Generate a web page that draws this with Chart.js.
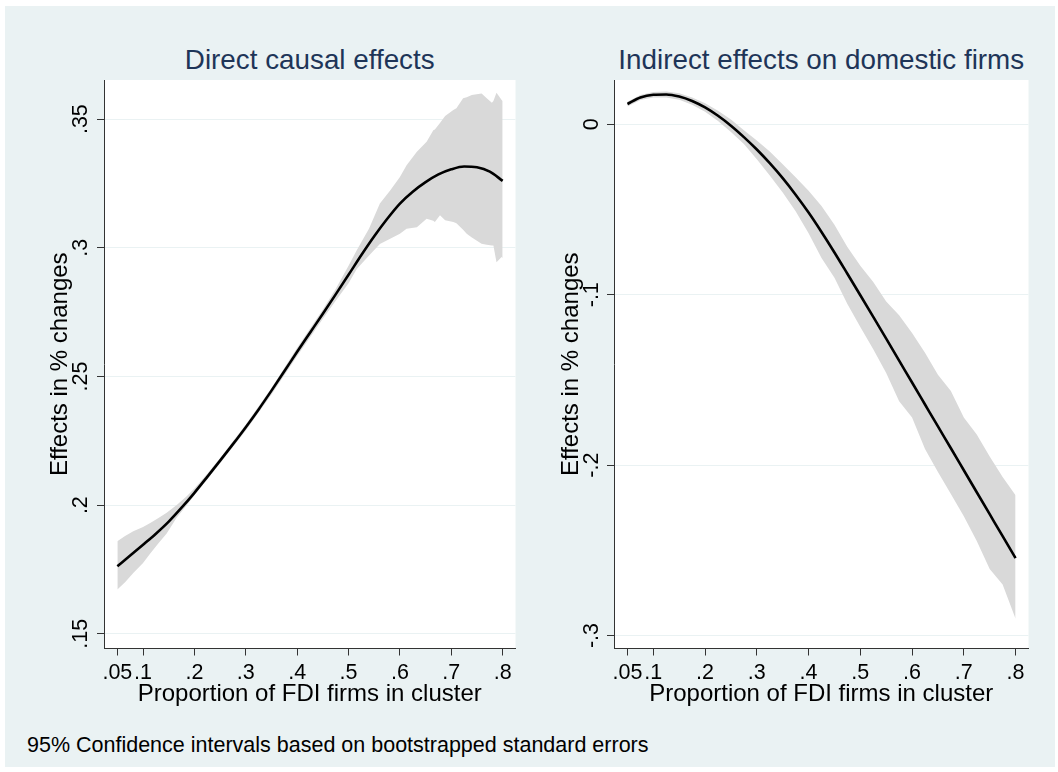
<!DOCTYPE html>
<html>
<head>
<meta charset="utf-8">
<script src="https://cdn.jsdelivr.net/npm/chart.js@4.4.1/dist/chart.umd.min.js"></script>
<style>
  html, body { margin:0; padding:0; background:#ffffff; overflow:hidden; }
  body { width:1058px; height:772px; position:relative; font-family:"Liberation Sans", Arial, sans-serif; }
  #bg { position:absolute; left:5px; top:6px; width:1050px; height:761px; background:#EAF2F3; }
  canvas { position:absolute; }
  .ttl { position:absolute; top:46.4px; height:28px; line-height:28px; font-size:27.8px; color:#1E3558; text-align:center; white-space:nowrap; }
  #note { position:absolute; left:27px; top:733.5px; font-size:21.5px; line-height:22px; color:#000; white-space:nowrap; }
</style>
</head>
<body>
<div id="bg"></div>
<div class="ttl" style="left:104px; width:411.5px;">Direct causal effects</div>
<div class="ttl" style="left:614px; width:414.5px;">Indirect effects on domestic firms</div>
<canvas id="c1" width="520" height="714" style="left:5px; top:6px;"></canvas>
<canvas id="c2" width="525" height="714" style="left:530px; top:6px;"></canvas>
<div id="note">95% Confidence intervals based on bootstrapped standard errors</div>
<script>
// ---------- tick values / labels ----------
const xTickVals   = [0.05, 0.1, 0.2, 0.3, 0.4, 0.5, 0.6, 0.7, 0.8];
const xTickLabels = ['.05', '.1', '.2', '.3', '.4', '.5', '.6', '.7', '.8'];
const leftYTickVals   = [0.15, 0.2, 0.25, 0.3, 0.35];
const leftYTickLabels = ['.15', '.2', '.25', '.3', '.35'];
const rightYTickVals   = [-0.3, -0.2, -0.1, 0];
const rightYTickLabels = ['-.3', '-.2', '-.1', '0'];

// ---------- left panel: direct causal effects ----------
const leftX = [0.05,0.075,0.1,0.125,0.15,0.175,0.2,0.225,0.25,0.275,0.3,0.325,0.35,0.375,0.4,0.425,0.45,0.475,0.5,0.525,0.55,0.575,0.6,0.625,0.65,0.675,0.7,0.725,0.75,0.775,0.8];
const leftFit = [0.1763,0.1804,0.1846,0.1889,0.1936,0.1990,0.2048,0.2110,0.2173,0.2237,0.2303,0.2372,0.2445,0.2520,0.2596,0.2670,0.2744,0.2819,0.2895,0.2972,0.3045,0.3112,0.3172,0.3218,0.3255,0.3285,0.3305,0.3316,0.3313,0.3296,0.3260];
const leftBandX  = [0.05,0.065,0.081,0.1,0.114,0.13,0.146,0.165,0.185,0.2,0.225,0.25,0.3,0.35,0.4,0.45,0.475,0.5,0.516,0.54,0.561,0.581,0.6,0.613,0.633,0.652,0.665,0.668,0.678,0.688,0.704,0.71,0.723,0.73,0.74,0.759,0.769,0.779,0.782,0.788,0.798,0.8];
const leftBandHi = [0.186,0.188,0.1899,0.1915,0.1931,0.195,0.197,0.2,0.2035,0.2065,0.2122,0.2183,0.2313,0.2455,0.2612,0.2760,0.2840,0.2930,0.2990,0.3075,0.3172,0.3223,0.3275,0.3321,0.3373,0.3412,0.3457,0.3460,0.3485,0.3512,0.3535,0.3542,0.3581,0.3585,0.3594,0.3600,0.3581,0.3564,0.3570,0.3602,0.3574,0.3570];
const leftBandLo = [0.1672,0.170,0.1736,0.1775,0.1812,0.1852,0.1890,0.1950,0.2000,0.2038,0.2100,0.2163,0.2290,0.2430,0.2580,0.2724,0.2794,0.2862,0.2918,0.2970,0.3015,0.3035,0.3055,0.3074,0.3080,0.3113,0.3105,0.3100,0.3126,0.3107,0.3100,0.3095,0.3070,0.3055,0.3040,0.3016,0.3012,0.3009,0.3009,0.2944,0.2964,0.2960];

// ---------- right panel: indirect effects on domestic firms ----------
const rightX = [0.05,0.075,0.1,0.125,0.15,0.175,0.2,0.225,0.25,0.275,0.3,0.325,0.35,0.375,0.4,0.425,0.45,0.475,0.5,0.525,0.55,0.575,0.6,0.625,0.65,0.675,0.7,0.725,0.75,0.775,0.8];
const rightFit = [0.0119,0.0157,0.0173,0.0175,0.0163,0.0137,0.0099,0.0050,-0.0008,-0.0075,-0.0148,-0.0228,-0.0316,-0.0413,-0.0518,-0.0632,-0.0752,-0.0877,-0.1003,-0.1130,-0.1258,-0.1387,-0.1515,-0.1644,-0.1773,-0.1901,-0.2030,-0.2159,-0.2288,-0.2417,-0.2546];
const rightBandHi = [0.0133,0.0172,0.0189,0.0192,0.0182,0.0158,0.0124,0.0080,0.0028,-0.0035,-0.0095,-0.0160,-0.0235,-0.0310,-0.0390,-0.0480,-0.0590,-0.0720,-0.0830,-0.0925,-0.1040,-0.1120,-0.1225,-0.1340,-0.1470,-0.1565,-0.1720,-0.1820,-0.1950,-0.2070,-0.2177];
const rightBandLo = [0.0105,0.0142,0.0157,0.0158,0.0144,0.0115,0.0073,0.0020,-0.0045,-0.0115,-0.0205,-0.0300,-0.0400,-0.0510,-0.0640,-0.0785,-0.0900,-0.1055,-0.1190,-0.1320,-0.1460,-0.1625,-0.1720,-0.1905,-0.2040,-0.2170,-0.2300,-0.2445,-0.2610,-0.2700,-0.2901];

const FONT = '"Liberation Sans", Arial, sans-serif';
const AXIS_COLOR = '#333333';
const GRID_COLOR = '#EAF2F3';
const BAND_COLOR = '#D9D9D9';

const pts = (xs, ys) => xs.map((x, i) => ({x: x, y: ys[i]}));

const plotBg = {
  id: 'plotBg',
  beforeDraw(chart) {
    const {ctx, chartArea: a} = chart;
    ctx.save();
    ctx.fillStyle = '#ffffff';
    ctx.fillRect(a.left, a.top, a.right - a.left, a.bottom - a.top);
    ctx.restore();
  }
};

function makePanel(canvasId, cfg) {
  return new Chart(document.getElementById(canvasId), {
    type: 'line',
    data: {
      datasets: [
        { data: pts(cfg.fitX, cfg.fit), borderColor: '#000000', borderWidth: 2.6,
          pointRadius: 0, cubicInterpolationMode: 'monotone', fill: false },
        { data: pts(cfg.bandX, cfg.hi), borderWidth: 0, borderColor: 'rgba(0,0,0,0)',
          backgroundColor: BAND_COLOR, pointRadius: 0, tension: 0, fill: '+1' },
        { data: pts(cfg.bandX, cfg.lo), borderWidth: 0, borderColor: 'rgba(0,0,0,0)',
          backgroundColor: BAND_COLOR, pointRadius: 0, tension: 0, fill: false }
      ]
    },
    options: {
      responsive: false,
      animation: false,
      devicePixelRatio: 1,
      layout: { padding: { top: 74, right: cfg.padR, left: 0, bottom: 0 } },
      plugins: { legend: { display: false }, tooltip: { enabled: false }, title: { display: false } },
      scales: {
        x: {
          type: 'linear', min: 0.024, max: 0.825,
          afterBuildTicks: (s) => { s.ticks = xTickVals.map(v => ({value: v})); },
          afterFit: (s) => { s.height = 71.5; },
          ticks: { autoSkip: false, maxRotation: 0, minRotation: 0, padding: 4.6, color: '#000000',
                   font: { family: FONT, size: 21.5 },
                   callback: (v, i) => xTickLabels[i] },
          grid: { display: true, drawOnChartArea: false, drawTicks: true, tickLength: 7,
                  tickColor: AXIS_COLOR, tickWidth: 1 },
          border: { display: true, color: AXIS_COLOR, width: 1 },
          title: { display: true, text: 'Proportion of FDI firms in cluster', color: '#000000',
                   font: { family: FONT, size: 24 }, padding: { top: 0, bottom: 11.3 } }
        },
        y: {
          type: 'linear', min: cfg.yMin, max: cfg.yMax,
          afterBuildTicks: (s) => { s.ticks = cfg.yTicks.map(v => ({value: v})); },
          afterFit: (s) => { s.width = cfg.yW; },
          ticks: { autoSkip: false, minRotation: 90, maxRotation: 90, crossAlign: 'center',
                   padding: cfg.yTickPad, color: '#000000', font: { family: FONT, size: 21.5 },
                   callback: (v, i) => cfg.yLabels[i] },
          grid: { display: true, drawOnChartArea: true, color: GRID_COLOR, lineWidth: 1,
                  drawTicks: true, tickLength: 7, tickColor: AXIS_COLOR, tickWidth: 1 },
          border: { display: true, color: AXIS_COLOR, width: 1 },
          title: { display: true, text: 'Effects in % changes', color: '#000000',
                   font: { family: FONT, size: 24 }, padding: { top: cfg.yTitlePad, bottom: 0 } }
        }
      }
    },
    plugins: [plotBg]
  });
}

makePanel('c1', {
  fitX: leftX, fit: leftFit, bandX: leftBandX, hi: leftBandHi, lo: leftBandLo,
  yMin: 0.1443, yMax: 0.3652, yTicks: leftYTickVals, yLabels: leftYTickLabels,
  yW: 99, padR: 9.5, yTickPad: 0.5, yTitlePad: 40.6
});
makePanel('c2', {
  fitX: rightX, fit: rightFit, bandX: rightX, hi: rightBandHi, lo: rightBandLo,
  yMin: -0.3076, yMax: 0.026, yTicks: rightYTickVals, yLabels: rightYTickLabels,
  yW: 84, padR: 26.5, yTickPad: 2.5, yTitlePad: 26.6
});
</script>
</body>
</html>
